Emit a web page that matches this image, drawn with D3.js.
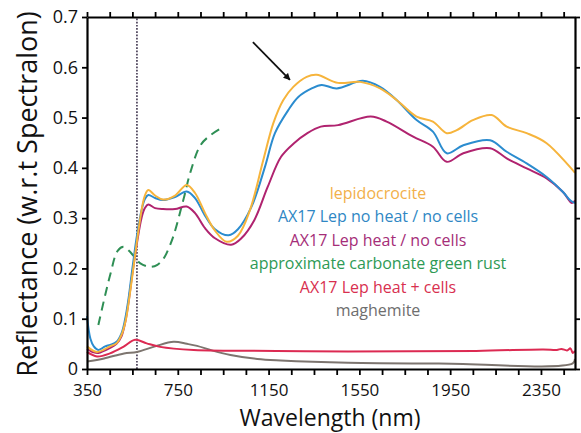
<!DOCTYPE html>
<html>
<head>
<meta charset="utf-8">
<script src="https://cdn.jsdelivr.net/npm/d3@7"></script>
<style>
  html, body { margin: 0; padding: 0; background: #fff; }
  svg { display: block; }
  text { font-family: "Open Sans", "DejaVu Sans", sans-serif; }
</style>
</head>
<body>
<svg id="chart" width="581" height="433"></svg>
<script>
// ---------- data ----------
const xTicks = [350, 450, 550, 650, 750, 850, 950, 1050, 1150, 1250, 1350, 1450, 1550, 1650, 1750, 1850, 1950, 2050, 2150, 2250, 2350, 2450];
const xLabelTicks = [350, 750, 1150, 1550, 1950, 2350];
const yTicks = [0, 0.1, 0.2, 0.3, 0.4, 0.5, 0.6, 0.7];

const lepWl = [350, 394, 451, 482, 504, 522, 539, 557, 575, 592, 605, 620, 650, 685, 738, 789, 826, 870, 914, 965, 1015, 1068, 1127, 1171, 1215, 1259, 1318, 1362, 1456, 1553, 1641, 1714, 1802, 1874, 1935, 1979, 2050, 2133, 2199, 2287, 2375, 2500];
const lepR  = [0.045, 0.034, 0.045, 0.052, 0.070, 0.100, 0.150, 0.210, 0.270, 0.320, 0.345, 0.356, 0.345, 0.337, 0.345, 0.366, 0.350, 0.310, 0.275, 0.253, 0.265, 0.316, 0.416, 0.489, 0.535, 0.561, 0.581, 0.585, 0.569, 0.571, 0.558, 0.535, 0.502, 0.492, 0.469, 0.475, 0.495, 0.505, 0.482, 0.469, 0.449, 0.390];

const noHeatWl = [350, 365, 380, 400, 430, 452, 480, 502, 517, 532, 550, 570, 590, 605, 620, 650, 685, 738, 789, 826, 870, 914, 974, 1015, 1075, 1134, 1178, 1237, 1281, 1340, 1384, 1450, 1565, 1641, 1714, 1802, 1874, 1935, 2008, 2126, 2199, 2287, 2375, 2447, 2480, 2500];
const noHeatR  = [0.105, 0.060, 0.045, 0.038, 0.045, 0.048, 0.054, 0.071, 0.097, 0.137, 0.200, 0.265, 0.315, 0.338, 0.346, 0.340, 0.336, 0.342, 0.353, 0.340, 0.305, 0.278, 0.266, 0.278, 0.323, 0.402, 0.469, 0.515, 0.541, 0.558, 0.565, 0.558, 0.573, 0.561, 0.535, 0.495, 0.472, 0.429, 0.445, 0.455, 0.432, 0.409, 0.382, 0.352, 0.335, 0.330];

const heatWl = [350, 380, 400, 452, 480, 502, 517, 532, 550, 570, 590, 605, 620, 650, 685, 738, 789, 826, 870, 914, 985, 1030, 1087, 1146, 1205, 1262, 1321, 1380, 1456, 1600, 1670, 1787, 1874, 1935, 2008, 2126, 2199, 2287, 2375, 2447, 2487, 2500];
const heatR  = [0.040, 0.033, 0.032, 0.042, 0.050, 0.065, 0.090, 0.130, 0.190, 0.250, 0.300, 0.320, 0.327, 0.320, 0.318, 0.318, 0.323, 0.310, 0.280, 0.260, 0.247, 0.260, 0.296, 0.362, 0.422, 0.449, 0.469, 0.482, 0.485, 0.502, 0.492, 0.462, 0.442, 0.412, 0.429, 0.439, 0.419, 0.399, 0.379, 0.352, 0.330, 0.335];

const greenRustWl = [400, 452, 485, 511, 535, 555, 585, 629, 660, 688, 710, 732, 776, 806, 850, 894, 953];
const greenRustR  = [0.0875, 0.187, 0.235, 0.243, 0.235, 0.225, 0.210, 0.203, 0.207, 0.220, 0.240, 0.266, 0.339, 0.392, 0.445, 0.465, 0.482];

const cellsWl = [350, 394, 451, 510, 562, 613, 672, 820, 1185, 1500, 2065, 2360, 2420, 2440, 2465, 2480, 2490, 2500];
const cellsR  = [0.034, 0.025, 0.031, 0.044, 0.058, 0.051, 0.044, 0.038, 0.036, 0.035, 0.036, 0.039, 0.038, 0.040, 0.037, 0.041, 0.032, 0.036];

const maghWl = [350, 425, 513, 570, 650, 732, 790, 835, 900, 982, 1100, 1203, 1500, 1900, 2490, 2500];
const maghR  = [0.015, 0.021, 0.031, 0.034, 0.045, 0.054, 0.050, 0.046, 0.037, 0.028, 0.020, 0.017, 0.0125, 0.011, 0.011, 0.020];

const legendLabels = ["lepidocrocite", "AX17 Lep no heat / no cells", "AX17 Lep heat / no cells", "approximate carbonate green rust", "AX17 Lep heat + cells", "maghemite"];

const markerWl = 570;                       // dotted vertical reference line
const arrowFrom = [1081, 0.650], arrowTo = [1244, 0.575];

// ---------- layout ----------
const svg = d3.select("#chart");
const L = 87, R = 575, T = 17, B = 369;
const x = d3.scaleLinear().domain([350, 2500]).range([L, R]);
const y = d3.scaleLinear().domain([0, 0.7]).range([B, T]);

const series = [
  { wl: maghWl,      r: maghR,      color: "#7d756f", dash: null },
  { wl: cellsWl,     r: cellsR,     color: "#dc2a52", dash: null },
  { wl: greenRustWl, r: greenRustR, color: "#2f8f55", dash: "9,6" },
  { wl: heatWl,      r: heatR,      color: "#b0236f", dash: null },
  { wl: noHeatWl,    r: noHeatR,    color: "#2b8ccf", dash: null },
  { wl: lepWl,       r: lepR,       color: "#f6b43c", dash: null }
];
const legendColors = ["#f2b04a", "#2f87c4", "#a52d78", "#2e9a55", "#d8304f", "#6e6e6e"];

// dotted vertical line
svg.append("line")
  .attr("x1", x(markerWl)).attr("x2", x(markerWl))
  .attr("y1", y(0)).attr("y2", y(0.7))
  .attr("stroke", "#4a4058").attr("stroke-width", 1.7)
  .attr("stroke-dasharray", "1.7,1.5");

const line = d3.line().curve(d3.curveCatmullRom.alpha(0.5));
series.forEach(s => {
  svg.append("path")
    .attr("d", line(s.wl.map((w, i) => [x(w), y(s.r[i])])))
    .attr("fill", "none")
    .attr("stroke", s.color)
    .attr("stroke-width", 2)
    .attr("stroke-dasharray", s.dash);
});

// axes
const fmtY = d => d === 0 ? "0" : d.toFixed(1);
const gB = svg.append("g").attr("transform", `translate(0,${B})`)
  .call(d3.axisBottom(x).tickValues(xTicks).tickSize(6).tickSizeOuter(0)
    .tickFormat(d => xLabelTicks.includes(d) ? d : ""));
const gT = svg.append("g").attr("transform", `translate(0,${T})`)
  .call(d3.axisTop(x).tickValues(xTicks).tickSize(5).tickSizeOuter(0).tickFormat(""));
const gL = svg.append("g").attr("transform", `translate(${L},0)`)
  .call(d3.axisLeft(y).tickValues(yTicks).tickSize(5).tickSizeOuter(0).tickFormat(fmtY));
const gR = svg.append("g").attr("transform", `translate(${R},0)`)
  .call(d3.axisRight(y).tickValues(yTicks).tickSize(5).tickSizeOuter(0).tickFormat(""));

[gB, gT, gL, gR].forEach(g => {
  g.select(".domain").attr("stroke", "#000").attr("stroke-width", 2.2);
  g.selectAll(".tick line").attr("stroke", "#000").attr("stroke-width", 1.8);
});
gB.selectAll(".tick text").attr("font-size", 17).attr("fill", "#111")
  .attr("y", 27).attr("dy", null)
  .style("font-family", '"Open Sans", sans-serif');
gL.selectAll(".tick text").attr("font-size", 18).attr("fill", "#111").attr("x", -9)
  .style("font-family", '"Open Sans", sans-serif');
[gB, gL].forEach(g => g.attr("font-family", null));

// axis titles
svg.append("text")
  .attr("x", 330).attr("y", 426)
  .attr("text-anchor", "middle").attr("font-size", 23).attr("fill", "#111")
  .text("Wavelength (nm)");
svg.append("text")
  .attr("transform", `translate(37,${194}) rotate(-90)`)
  .attr("text-anchor", "middle").attr("font-size", 27).attr("fill", "#111")
  .text("Reflectance (w.r.t Spectralon)");

// legend text
legendLabels.forEach((lab, i) => {
  svg.append("text")
    .attr("x", 378).attr("y", 199 + i * 23.4)
    .attr("text-anchor", "middle").attr("font-size", 16)
    .attr("fill", legendColors[i])
    .text(lab);
});

// arrow
svg.append("defs").append("marker")
  .attr("id", "ah").attr("viewBox", "0 0 10 10")
  .attr("refX", 9).attr("refY", 5)
  .attr("markerWidth", 7).attr("markerHeight", 7)
  .attr("markerUnits", "userSpaceOnUse")
  .attr("orient", "auto")
  .append("path").attr("d", "M0,0 L10,5 L0,10 Z").attr("fill", "#111");
svg.append("line")
  .attr("x1", x(arrowFrom[0])).attr("y1", y(arrowFrom[1]))
  .attr("x2", x(arrowTo[0])).attr("y2", y(arrowTo[1]))
  .attr("stroke", "#111").attr("stroke-width", 1.8)
  .attr("marker-end", "url(#ah)");
</script>
</body>
</html>
